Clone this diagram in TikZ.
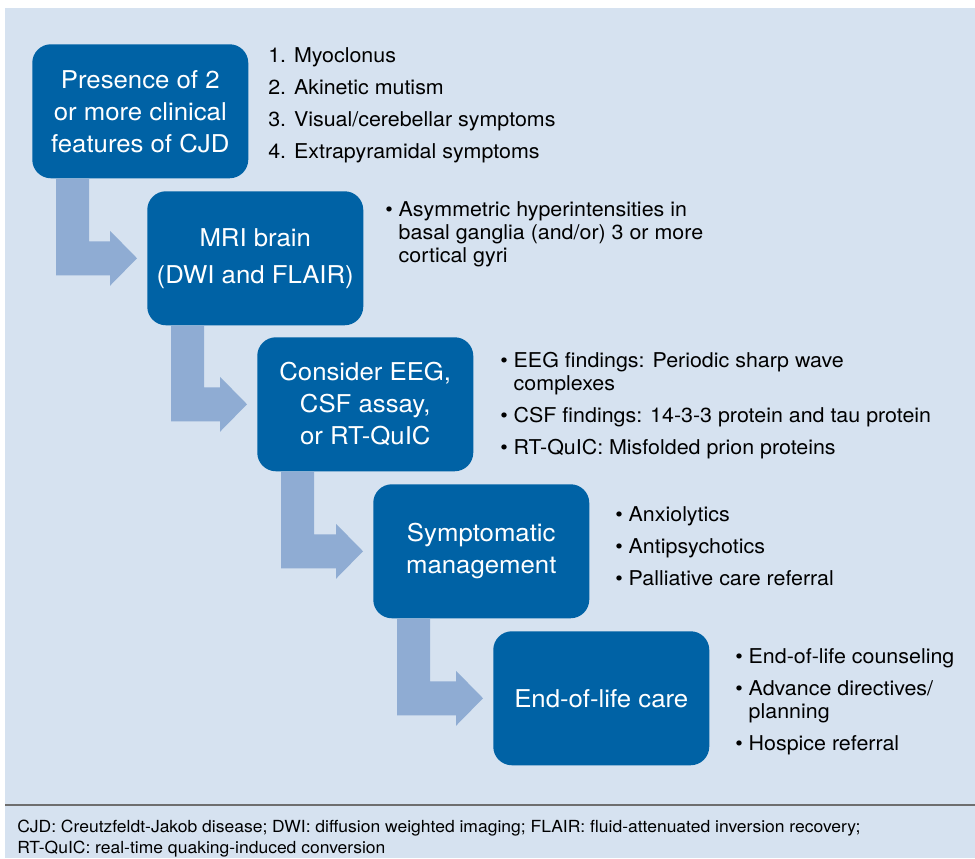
\documentclass[tikz,border=0pt]{standalone}
\usepackage{fontspec}
\setmainfont[FakeStretch=1.05]{TeX Gyre Heros}
\usepackage{xcolor}
\usepackage{tikz}
\usetikzlibrary{calc}
\definecolor{boxblue}{RGB}{0,98,165}
\definecolor{arrowblue}{RGB}{143,172,211}
\definecolor{panelblue}{RGB}{214,226,240}
\definecolor{rulegray}{RGB}{110,110,110}
\newcommand{\bpt}{\textbullet\ }
\newcommand{\bcont}{\hphantom{\textbullet\ }}
% fat elbow arrow: down out of #1, then right into #2
\newcommand{\elbowarrow}[2]{%
	\fill[arrowblue] ($(#1.south west)+(24,0)$) -- ($(#1.south west)+(57,0)$)
	|- ($(#2.west)+(-37,-17)$) -- ++(0,-10.5) -- ($(#2.west)+(-10,0)$)
	-- ($(#2.west)+(-37,27.5)$) -- ++(0,-10.5) -| ($(#1.south west)+(24,0)$) -- cycle;}

\begin{document}
\begin{tikzpicture}[x=0.75pt,y=-0.75pt,
	stepbox/.style={fill=boxblue, text=white, rounded corners=14pt, minimum width=162pt, minimum height=100.5pt, align=center, anchor=north west, inner sep=0pt, font=\fontsize{18.4}{24}\selectfont},
	listtext/.style={anchor=base west, align=left, inner sep=0pt, font=\fontsize{15.3}{17.25}\selectfont}]
		%background
		\useasboundingbox (0,0) rectangle (975,858);
		\fill[panelblue] (5,8) rectangle (975,858);
		\draw[rulegray, line width=1.5pt] (5,805) -- (975,805);
		
		%coordinates (top left of each step)
		\coordinate (TLpres) at (32,44);
		\coordinate (TLmri)  at (147,191);
		\coordinate (TLtest) at (257,337);
		\coordinate (TLsymp) at (373,484);
		\coordinate (TLend)  at (493,631);
		
		%nodes
		\node[stepbox] (pres) at (TLpres) {Presence of 2\\or more clinical\\features of CJD};
		\node[stepbox] (mri) at (TLmri) {MRI brain\\[3.75pt](DWI and FLAIR)};
		\node[stepbox] (test) at (TLtest) {Consider EEG,\\CSF assay,\\or RT-QuIC};
		\node[stepbox] (symp) at (TLsymp) {Symptomatic\\management};
		\node[stepbox] (endcare) at (TLend) {End-of-life care};
		
		%lists (placed at the baseline of their last line)
		\node[listtext] (presL) at (268,158) {1. Myoclonus\\[6.75pt]2. Akinetic mutism\\[6.75pt]3. Visual/cerebellar symptoms\\[6.75pt]4. Extrapyramidal symptoms};
		\node[listtext] (mriL) at (385,262) {\bpt Asymmetric hyperintensities in\\\bcont basal ganglia (and/or) 3 or more\\\bcont cortical gyri};
		\node[listtext] (testL) at (500,454) {\bpt EEG findings: Periodic sharp wave\\\bcont complexes\\[6.75pt]\bpt CSF findings: 14-3-3 protein and tau protein\\[6.75pt]\bpt RT-QuIC: Misfolded prion proteins};
		\node[listtext] (sympL) at (615,585) {\bpt Anxiolytics\\[6.75pt]\bpt Antipsychotics\\[6.75pt]\bpt Palliative care referral};
		\node[listtext] (endL) at (735,750) {\bpt End-of-life counseling\\[6.75pt]\bpt Advance directives/\\\bcont planning\\[6.75pt]\bpt Hospice referral};
		
		\node[anchor=base west, align=left, inner sep=0pt, font=\fontsize{12.5}{15.75}\selectfont] (notes) at (17,853) {CJD: Creutzfeldt-Jakob disease; DWI: diffusion weighted imaging; FLAIR: fluid-attenuated inversion recovery;\\RT-QuIC: real-time quaking-induced conversion};
		
		%arrows
		\elbowarrow{pres}{mri}
		\elbowarrow{mri}{test}
		\elbowarrow{test}{symp}
		\elbowarrow{symp}{endcare}
\end{tikzpicture}
\end{document}
